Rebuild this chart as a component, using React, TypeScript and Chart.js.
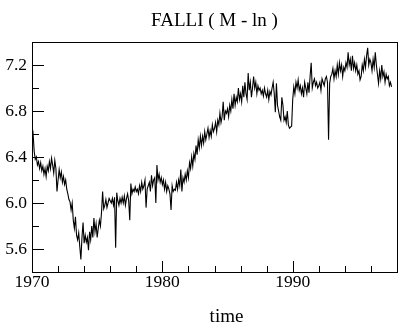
import { useEffect, useRef } from "react";
import { Chart, registerables } from "chart.js";

Chart.register(...registerables);

const TITLE = "FALLI ( M - ln )";
const X_TITLE = "time";
const START_YEAR = 1970;

const y1970 = [6.55, 6.60, 6.45, 6.38, 6.40, 6.33, 6.36, 6.30, 6.35, 6.28, 6.32, 6.25];
const y1971 = [6.30, 6.23, 6.32, 6.28, 6.36, 6.30, 6.39, 6.33, 6.26, 6.37, 6.30, 6.10];
const y1972 = [6.20, 6.29, 6.22, 6.27, 6.18, 6.23, 6.16, 6.20, 6.12, 6.08, 6.03, 6.01];
const y1973 = [5.94, 6.00, 5.85, 5.78, 5.88, 5.72, 5.68, 5.74, 5.62, 5.51, 5.70, 5.83];
const y1974 = [5.65, 5.72, 5.66, 5.70, 5.59, 5.75, 5.68, 5.80, 5.70, 5.87, 5.75, 5.82];
const y1975 = [5.70, 5.78, 5.85, 5.80, 5.92, 6.10, 5.95, 5.98, 6.03, 5.96, 6.00, 6.04];
const y1976 = [6.02, 6.00, 6.04, 5.98, 6.05, 5.61, 6.09, 6.02, 5.98, 6.04, 6.00, 6.05];
const y1977 = [6.00, 6.06, 5.98, 6.04, 6.08, 6.02, 5.85, 6.17, 6.08, 6.12, 6.10, 6.14];
const y1978 = [6.10, 6.12, 6.08, 6.15, 6.10, 6.18, 6.12, 6.15, 6.20, 5.96, 6.12, 6.15];
const y1979 = [6.18, 6.10, 6.24, 6.15, 6.20, 6.22, 6.00, 6.33, 6.20, 6.25, 6.18, 6.22];
const y1980 = [6.16, 6.20, 6.12, 6.18, 6.10, 6.15, 6.12, 6.08, 5.94, 6.15, 6.10, 6.12];
const y1981 = [6.11, 6.18, 6.12, 6.20, 6.15, 6.29, 6.10, 6.22, 6.18, 6.25, 6.20, 6.28];
const y1982 = [6.22, 6.35, 6.30, 6.40, 6.32, 6.43, 6.38, 6.50, 6.42, 6.55, 6.48, 6.58];
const y1983 = [6.50, 6.58, 6.52, 6.62, 6.55, 6.60, 6.65, 6.57, 6.63, 6.58, 6.68, 6.62];
const y1984 = [6.65, 6.70, 6.62, 6.72, 6.68, 6.78, 6.70, 6.75, 6.88, 6.72, 6.80, 6.78];
const y1985 = [6.82, 6.75, 6.85, 6.80, 6.90, 6.82, 6.95, 6.85, 6.92, 6.88, 7.00, 6.90];
const y1986 = [6.95, 6.88, 7.02, 6.92, 7.05, 6.95, 6.90, 7.13, 6.98, 7.05, 6.92, 7.00];
const y1987 = [7.10, 7.00, 7.05, 6.95, 7.02, 6.98, 7.00, 6.95, 6.98, 6.93, 7.00, 6.95];
const y1988 = [6.92, 6.98, 6.90, 6.97, 6.94, 7.00, 7.05, 6.95, 6.79, 7.04, 6.85, 6.80];
const y1989 = [6.75, 6.72, 6.92, 6.85, 6.72, 6.75, 6.70, 6.80, 6.68, 6.65, 6.66, 6.67];
const y1990 = [6.90, 7.01, 6.95, 7.05, 7.00, 7.07, 6.98, 7.02, 6.95, 7.00, 6.92, 7.05];
const y1991 = [7.00, 6.95, 7.05, 6.96, 7.10, 7.22, 7.00, 7.05, 7.08, 7.02, 7.05, 7.00];
const y1992 = [7.02, 7.05, 6.98, 7.08, 7.05, 7.02, 7.08, 7.10, 7.05, 6.55, 7.04, 7.10];
const y1993 = [7.12, 7.17, 7.08, 7.15, 7.10, 7.20, 7.12, 7.22, 7.15, 7.20, 7.10, 7.18];
const y1994 = [7.15, 7.22, 7.18, 7.31, 7.20, 7.25, 7.15, 7.28, 7.17, 7.22, 7.15, 7.20];
const y1995 = [7.12, 7.15, 7.07, 7.10, 7.20, 7.15, 7.25, 7.18, 7.28, 7.35, 7.20, 7.25];
const y1996 = [7.22, 7.15, 7.25, 7.18, 7.31, 7.20, 7.12, 7.04, 7.15, 7.08, 7.20, 7.10];
const y1997 = [7.14, 7.05, 7.12, 7.08, 7.10, 7.02, 7.05, 7.01];

const YEARS = [
  y1970, y1971, y1972, y1973, y1974, y1975, y1976, y1977, y1978, y1979,
  y1980, y1981, y1982, y1983, y1984, y1985, y1986, y1987, y1988, y1989,
  y1990, y1991, y1992, y1993, y1994, y1995, y1996, y1997,
];

const X_MIN = 1970;
const X_MAX = 1998;
const Y_MIN = 5.4;
const Y_MAX = 7.4;
const X_TICKS = [1970, 1980, 1990];
const X_MINOR = [1972, 1974, 1976, 1978, 1982, 1984, 1986, 1988, 1992, 1994, 1996];
const Y_TICKS = [5.6, 6.0, 6.4, 6.8, 7.2];
const Y_MINOR = [5.8, 6.2, 6.6, 7.0];

const FONT = "'Liberation Serif', 'Times New Roman', serif";
const TICK_SIZE = 17.5;
const TITLE_SIZE = 19;

const framePlugin = {
  id: "frame",
  afterDraw(chart: any) {
    const { ctx, chartArea: a, scales } = chart;
    const x = scales.x;
    const y = scales.y;
    ctx.save();
    ctx.strokeStyle = "#000";
    ctx.lineWidth = 1;
    ctx.strokeRect(a.left + 0.5, a.top + 0.5, a.right - a.left, a.bottom - a.top);
    ctx.beginPath();
    const xt = (v: number, len: number) => {
      const px = Math.round(x.getPixelForValue(v)) + 0.5;
      ctx.moveTo(px, a.bottom);
      ctx.lineTo(px, a.bottom - len);
    };
    const yt = (v: number, len: number) => {
      const py = Math.round(y.getPixelForValue(v)) + 0.5;
      ctx.moveTo(a.left, py);
      ctx.lineTo(a.left + len, py);
    };
    X_TICKS.forEach((v) => xt(v, 11));
    X_MINOR.forEach((v) => xt(v, 6));
    Y_TICKS.forEach((v) => yt(v, 12));
    Y_MINOR.forEach((v) => yt(v, 7));
    ctx.stroke();
    ctx.fillStyle = "#000";
    ctx.font = `${TITLE_SIZE}px ${FONT}`;
    ctx.textAlign = "center";
    ctx.textBaseline = "middle";
    const cx = (a.left + a.right) / 2;
    ctx.fillText(TITLE, cx, 21);
    ctx.fillText(X_TITLE, cx + 12, 317);
    ctx.restore();
  },
};

export default function App() {
  const ref = useRef<HTMLCanvasElement | null>(null);
  useEffect(() => {
    if (!ref.current) return;
    const points: { x: number; y: number }[] = [];
    YEARS.forEach((arr, yi) => {
      arr.forEach((v, m) => points.push({ x: START_YEAR + yi + m / 12, y: v }));
    });
    const chart = new Chart(ref.current, {
      type: "line",
      data: {
        datasets: [
          {
            data: points,
            borderColor: "#000",
            borderWidth: 1.1,
            pointRadius: 0,
            tension: 0,
            fill: false,
          },
        ],
      },
      options: {
        animation: false,
        responsive: false,
        events: [],
        layout: { padding: { top: 42, right: 22, left: 0, bottom: 0 } },
        plugins: { legend: { display: false }, title: { display: false }, tooltip: { enabled: false } },
        scales: {
          x: {
            type: "linear",
            min: X_MIN,
            max: X_MAX,
            grid: { display: false, drawTicks: false },
            border: { display: false },
            afterBuildTicks: (s: any) => {
              s.ticks = X_TICKS.map((v) => ({ value: v }));
            },
            afterFit: (s: any) => {
              s.height = 57;
            },
            ticks: {
              padding: 0,
              maxRotation: 0,
              autoSkip: false,
              color: "#000",
              font: { family: FONT, size: TICK_SIZE },
              callback: (v: any) => String(v),
            },
          },
          y: {
            type: "linear",
            min: Y_MIN,
            max: Y_MAX,
            grid: { display: false, drawTicks: false },
            border: { display: false },
            afterBuildTicks: (s: any) => {
              s.ticks = Y_TICKS.map((v) => ({ value: v }));
            },
            afterFit: (s: any) => {
              s.width = 32;
            },
            ticks: {
              padding: 5,
              autoSkip: false,
              color: "#000",
              font: { family: FONT, size: TICK_SIZE },
              callback: (v: any) => Number(v).toFixed(1),
            },
          },
        },
      },
      plugins: [framePlugin],
    });
    return () => chart.destroy();
  }, []);
  return (
    <div style={{ position: "fixed", left: 0, top: 0, width: 419, height: 329, background: "#fff" }}>
      <canvas ref={ref} width={419} height={329} style={{ display: "block" }} />
    </div>
  );
}
